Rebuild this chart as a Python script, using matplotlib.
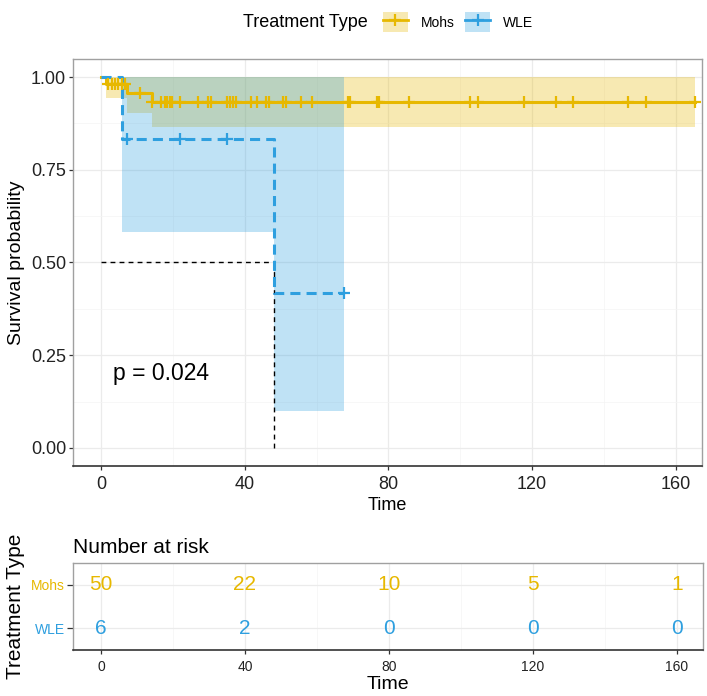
import numpy as np
import matplotlib
matplotlib.use("Agg")
import matplotlib.pyplot as plt
from matplotlib.patches import Patch
from matplotlib.lines import Line2D
from matplotlib.ticker import MultipleLocator

plt.rcParams['font.family'] = ['Liberation Sans', 'DejaVu Sans']

mohs_col = '#E7B800'
wle_col = '#2E9FDF'

# curva KM - Mohs
mohs_t = [0, 1.5, 7.1, 14.1, 165.2]
mohs_s = [1.0, 0.980, 0.957, 0.933, 0.933]
mohs_lo = [1.0, 0.943, 0.903, 0.866, 0.866]
mohs_hi = [1.0, 1.0, 1.0, 1.0, 1.0]
mohs_cens = [1.8, 3.0, 3.9, 4.8, 5.7, 6.7, 10.8, 14.1, 16.8, 17.8, 18.4, 19.2,
             19.8, 21.9, 27.0, 29.8, 30.7, 35.1, 35.8, 36.6, 37.5, 41.8, 43.4,
             46.0, 46.8, 50.6, 51.4, 55.7, 58.8, 68.7, 69.4, 76.8, 77.5, 85.8,
             102.7, 104.8, 117.8, 126.6, 131.5, 146.7, 151.6, 165.2]

# curva KM - WLE
wle_t = [0, 5.8, 48.2, 67.7]
wle_s = [1.0, 0.833, 0.417, 0.417]
wle_lo = [1.0, 0.583, 0.100, 0.100]
wle_hi = [1.0, 1.0, 1.0, 1.0]
wle_cens = [7.2, 22.0, 35.0, 67.7]

median_wle = 48.2
pval_txt = "p = 0.024"

# tabela de risco
risk_times = [0, 40, 80, 120, 160]
risk_mohs = [50, 22, 10, 5, 1]
risk_wle = [6, 2, 0, 0, 0]
groups = ['Mohs', 'WLE']


def surv_at(times, surv, t):
    idx = np.searchsorted(times, t, side='right') - 1
    return np.array(surv)[idx]


def style_axes(ax, tick_size):
    ax.set_facecolor('white')
    ax.grid(which='major', color='#EBEBEB', lw=0.9)
    ax.grid(which='minor', color='#F4F4F4', lw=0.5)
    ax.set_axisbelow(True)
    for s in ['top', 'right', 'left']:
        ax.spines[s].set_color('#A0A0A0')
        ax.spines[s].set_linewidth(1.0)
    ax.spines['bottom'].set_color('#333333')
    ax.spines['bottom'].set_linewidth(1.2)
    ax.tick_params(which='major', length=3, width=0.9, color='#333333',
                   labelsize=tick_size, labelcolor='#222222', pad=2)
    ax.tick_params(which='minor', length=0)


fig = plt.figure(figsize=(7.07, 6.96), dpi=100)

# ---- painel principal
ax = fig.add_axes([0.1033, 0.3305, 0.8897, 0.5847])
style_axes(ax, 13)
ax.set_xlim(-7.8, 167.3)
ax.set_ylim(-0.0485, 1.0485)
ax.xaxis.set_major_locator(MultipleLocator(40))
ax.xaxis.set_minor_locator(MultipleLocator(20))
ax.yaxis.set_major_locator(MultipleLocator(0.25))
ax.yaxis.set_minor_locator(MultipleLocator(0.125))
ax.yaxis.set_major_formatter(plt.FuncFormatter(lambda v, p: f"{v:.2f}"))
ax.tick_params(axis='x', pad=4)

ax.fill_between(mohs_t, mohs_lo, mohs_hi, step='post', color=mohs_col,
                alpha=0.3, lw=0)
ax.fill_between(wle_t, wle_lo, wle_hi, step='post', color=wle_col,
                alpha=0.3, lw=0)

# linhas da mediana
ax.plot([0, median_wle], [0.5, 0.5], color='black', lw=1.0, dashes=(3.5, 3))
ax.plot([median_wle, median_wle], [0, 0.5], color='black', lw=1.0,
        dashes=(3.5, 3))

ax.step(mohs_t, mohs_s, where='post', color=mohs_col, lw=2.2)
ax.step(wle_t, wle_s, where='post', color=wle_col, lw=2.2, dashes=(3.3, 2))

ax.plot(mohs_cens, surv_at(mohs_t, mohs_s, mohs_cens), ls='none', marker='+',
        ms=8, mew=1.6, color=mohs_col)
ax.plot(wle_cens, surv_at(wle_t, wle_s, wle_cens), ls='none', marker='+',
        ms=8, mew=1.6, color=wle_col)

ax.text(3.3, 0.2, pval_txt, fontsize=16.5, ha='left', va='center',
        color='black')

ax.set_xlabel('Time', fontsize=13, labelpad=3)
ax.set_ylabel('Survival probability', fontsize=14, labelpad=4)

# legenda
fig.text(0.343, 0.968, 'Treatment Type', fontsize=13, ha='left',
         va='center')
handles = [
    (Patch(facecolor=mohs_col, alpha=0.3, lw=0),
     Line2D([], [], color=mohs_col, lw=2, marker='+', ms=9, mew=1.6)),
    (Patch(facecolor=wle_col, alpha=0.3, lw=0),
     Line2D([], [], color=wle_col, lw=2, marker='+', ms=9, mew=1.6)),
]
fig.legend(handles, groups, ncol=2, loc='center left',
           bbox_to_anchor=(0.5417, 0.968), frameon=False, fontsize=10,
           handlelength=1.8, handleheight=1.8, handletextpad=0.9,
           columnspacing=0.8, borderaxespad=0, borderpad=0)

# ---- tabela de risco
ax2 = fig.add_axes([0.1033, 0.0661, 0.891, 0.125])
style_axes(ax2, 10)
ax2.set_xlim(-7.8, 167.3)
ax2.set_ylim(0.5, 2.5)
ax2.set_xticks(risk_times)
ax2.xaxis.set_minor_locator(MultipleLocator(20))
ax2.set_yticks([2, 1])
ax2.set_yticklabels(groups)
for lab, c in zip(ax2.get_yticklabels(), [mohs_col, wle_col]):
    lab.set_color(c)
ax2.tick_params(axis='y', labelsize=10, length=4)
ax2.tick_params(axis='x', pad=4)

for t, m, w in zip(risk_times, risk_mohs, risk_wle):
    ax2.text(t, 2, str(m), color=mohs_col, fontsize=15, ha='center',
             va='center')
    ax2.text(t, 1, str(w), color=wle_col, fontsize=15, ha='center',
             va='center')

ax2.set_title('Number at risk', fontsize=15, loc='left', pad=7)
ax2.set_xlabel('Time', fontsize=14, labelpad=2)
ax2.set_ylabel('Treatment Type', fontsize=15, labelpad=4)

fig.savefig('out.png', dpi=100, facecolor='white')
